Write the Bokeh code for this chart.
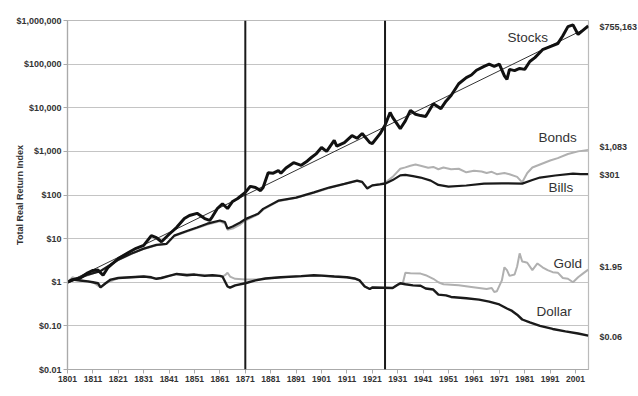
from bokeh.plotting import figure
from bokeh.models import FixedTicker, Span, Label, LogAxis
from bokeh.embed import file_html
from bokeh.resources import INLINE

# ---------------- data ----------------
stocks_years = [1801, 1803, 1806, 1809, 1811, 1813, 1815, 1817, 1821, 1825, 1828, 1831, 1834, 1836,
                1838, 1841, 1844, 1847, 1849, 1852, 1854, 1855, 1857, 1858, 1860, 1862, 1864, 1866,
                1868, 1871, 1873, 1875, 1877, 1878, 1880, 1882, 1884, 1885, 1887, 1890, 1893, 1895,
                1897, 1899, 1901, 1903, 1906, 1907, 1910, 1913, 1915, 1917, 1920, 1921, 1924, 1926,
                1928, 1929, 1932, 1934, 1936, 1938, 1940, 1942, 1945, 1948, 1950, 1952, 1955, 1958,
                1960, 1962, 1965, 1967, 1969, 1971, 1973, 1974, 1975, 1977, 1979, 1981, 1983, 1985,
                1988, 1991, 1994, 1996, 1998, 2000, 2002, 2004, 2006]
stocks_values = [1.0, 1.15, 1.25, 1.65, 1.86, 1.9, 1.45, 2.2, 3.5, 4.8, 6.0, 7.0, 11.7, 10.5,
                 8.5, 12.6, 18.2, 28.8, 33.9, 38.0, 31.6, 28.8, 26.3, 31.6, 49.0, 63.0, 49.0, 71.0,
                 83.0, 115.0, 158.0, 148.0, 126.0, 148.0, 324.0, 316.0, 363.0, 316.0, 417.0, 550.0, 479.0, 575.0,
                 724.0, 891.0, 1230.0, 1000.0, 1778.0, 1318.0, 1585.0, 2291.0, 1995.0, 2570.0, 1585.0, 1514.0, 2512.0, 3981.0,
                 7762.0, 6026.0, 3311.0, 5012.0, 8710.0, 7079.0, 6607.0, 6310.0, 12300.0, 9550.0, 14125.0, 19055.0, 35481.0, 48978.0,
                 56234.0, 72444.0, 89125.0, 100000.0, 89125.0, 100000.0, 53703.0, 44668.0, 75858.0, 70795.0, 79433.0, 75858.0, 114815.0, 141254.0,
                 213796.0, 251189.0, 295121.0, 446684.0, 724436.0, 794328.0, 478630.0, 602560.0, 755163.0]

trend_years = [1801, 2006]
trend_values = [1.0, 700000.0]

bonds_years = [1801, 1806, 1809, 1814, 1821, 1826, 1831, 1836, 1840, 1843, 1848, 1852, 1856, 1861,
               1863, 1864, 1866, 1869, 1871, 1876, 1878, 1884, 1891, 1898, 1904, 1910, 1915, 1917,
               1919, 1921, 1924, 1926, 1929, 1932, 1934, 1936, 1938, 1940, 1943, 1945, 1947, 1949,
               1952, 1955, 1958, 1961, 1964, 1966, 1968, 1970, 1973, 1975, 1978, 1980, 1982, 1984,
               1987, 1991, 1994, 1998, 2002, 2006]
bonds_values = [1.0, 1.3, 1.45, 1.85, 3.2, 4.4, 5.8, 7.0, 7.5, 11.5, 14.5, 17.5, 21.0, 25.0,
                22.0, 16.0, 17.0, 21.0, 26.0, 36.0, 46.0, 72.0, 86.0, 113.0, 145.0, 178.0, 210.0, 195.0,
                145.0, 165.0, 178.0, 190.0, 260.0, 400.0, 430.0, 470.0, 500.0, 470.0, 420.0, 440.0, 390.0, 427.0,
                390.0, 400.0, 331.0, 360.0, 345.0, 320.0, 340.0, 300.0, 320.0, 300.0, 260.0, 195.0, 320.0, 427.0,
                500.0, 617.0, 700.0, 871.0, 1000.0, 1083.0]

bills_years = [1801, 1806, 1809, 1814, 1821, 1826, 1831, 1836, 1840, 1843, 1848, 1852, 1856, 1861,
               1863, 1864, 1866, 1869, 1871, 1876, 1878, 1884, 1891, 1898, 1904, 1910, 1915, 1917,
               1919, 1921, 1924, 1926, 1929, 1932, 1934, 1937, 1940, 1944, 1947, 1951, 1958, 1965,
               1972, 1980, 1984, 1987, 1993, 2000, 2003, 2006]
bills_values = [1.0, 1.25, 1.5, 1.8, 3.3, 4.5, 5.9, 7.2, 7.6, 11.7, 15.0, 18.0, 22.0, 26.0,
                24.0, 17.0, 19.0, 23.4, 28.0, 37.0, 48.0, 74.0, 87.0, 115.0, 148.0, 180.0, 214.0, 200.0,
                141.0, 166.0, 175.0, 182.0, 220.0, 282.0, 290.0, 270.0, 251.0, 214.0, 170.0, 155.0, 165.0, 182.0,
                185.0, 182.0, 220.0, 251.0, 280.0, 309.0, 300.0, 301.0]

gold_years = [1801, 1803, 1806, 1811, 1814, 1816, 1821, 1831, 1836, 1841, 1844, 1851, 1858, 1862,
              1863, 1864, 1865, 1867, 1871, 1875, 1879, 1885, 1893, 1901, 1911, 1914, 1916, 1918,
              1920, 1921, 1925, 1929, 1931, 1933, 1934, 1936, 1940, 1942, 1945, 1947, 1949, 1955,
              1960, 1966, 1968, 1969, 1970, 1972, 1973, 1974, 1975, 1977, 1978, 1979, 1980, 1981,
              1982, 1984, 1986, 1988, 1990, 1992, 1994, 1996, 1998, 2000, 2002, 2004, 2006]
gold_values = [1.0, 1.3, 1.1, 1.0, 0.76, 0.95, 1.25, 1.35, 1.2, 1.4, 1.55, 1.5, 1.45, 1.35,
               1.45, 1.65, 1.35, 1.2, 1.15, 1.15, 1.22, 1.3, 1.38, 1.42, 1.3, 1.22, 1.1, 0.8,
               0.7, 0.76, 0.75, 0.74, 0.88, 0.95, 1.66, 1.6, 1.58, 1.45, 1.2, 1.0, 0.9, 0.85,
               0.78, 0.7, 0.74, 0.6, 0.62, 1.1, 2.2, 1.9, 1.4, 1.5, 2.3, 4.6, 3.0, 2.9,
               2.8, 1.9, 2.7, 2.2, 1.9, 1.7, 1.66, 1.25, 1.2, 1.0, 1.3, 1.6, 1.95]

dollar_years = [1801, 1803, 1806, 1809, 1811, 1813, 1814, 1816, 1818, 1821, 1826, 1831, 1834, 1836,
                1838, 1841, 1844, 1848, 1851, 1855, 1858, 1861, 1862, 1864, 1865, 1867, 1871, 1875,
                1879, 1885, 1893, 1898, 1901, 1906, 1911, 1914, 1916, 1918, 1920, 1921, 1925, 1929,
                1931, 1932, 1934, 1937, 1940, 1942, 1945, 1947, 1950, 1952, 1958, 1963, 1967, 1971,
                1974, 1976, 1978, 1980, 1983, 1987, 1992, 1997, 2002, 2006]
dollar_values = [1.0, 1.15, 1.1, 1.05, 1.0, 0.95, 0.76, 0.95, 1.15, 1.25, 1.3, 1.35, 1.3, 1.2,
                 1.25, 1.4, 1.55, 1.45, 1.5, 1.4, 1.45, 1.4, 1.35, 0.8, 0.75, 0.85, 0.95, 1.1,
                 1.22, 1.3, 1.38, 1.45, 1.42, 1.35, 1.3, 1.22, 1.1, 0.8, 0.7, 0.76, 0.75, 0.74,
                 0.88, 0.95, 0.9, 0.85, 0.83, 0.72, 0.68, 0.52, 0.5, 0.46, 0.43, 0.4, 0.36, 0.31,
                 0.25, 0.22, 0.18, 0.14, 0.12, 0.1, 0.085, 0.075, 0.067, 0.06]

era_lines = [1871, 1926]

x_ticks = [1801, 1811, 1821, 1831, 1841, 1851, 1861, 1871, 1881, 1891, 1901,
           1911, 1921, 1931, 1941, 1951, 1961, 1971, 1981, 1991, 2001]
y_ticks = [0.01, 0.1, 1, 10, 100, 1000, 10000, 100000, 1000000]
y_tick_labels = ["$0.01", "$0.10", "$1", "$10", "$100", "$1,000", "$10,000", "$100,000", "$1,000,000"]

series_names = ["Stocks", "Bonds", "Bills", "Gold", "Dollar"]
end_labels = ["$755,163", "$1,083", "$301", "$1.95", "$0.06"]
axis_title = "Total Real Return Index"

# ---------------- figure ----------------
FONT = "Liberation Sans"
TXT = "#333333"
GRAY = "#b0b0b0"

p = figure(frame_width=521, frame_height=349,
           min_border_left=67, min_border_right=48, min_border_top=20, min_border_bottom=25,
           y_axis_type="log", x_range=(1801, 2006.1), y_range=(0.01, 1000000),
           output_backend="svg", toolbar_location=None)
p.background_fill_color = "white"
p.border_fill_color = "white"
p.outline_line_color = "#bbbbbb"
p.outline_line_width = 1.2

p.xgrid.visible = False
p.ygrid.ticker = FixedTicker(ticks=y_ticks)
p.ygrid.grid_line_color = "#c4c4c4"
p.ygrid.grid_line_width = 1.2

p.yaxis.ticker = FixedTicker(ticks=y_ticks)
p.yaxis.major_label_overrides = {t: s for t, s in zip(y_ticks, y_tick_labels)}
p.xaxis.ticker = FixedTicker(ticks=x_ticks)
p.xaxis.major_label_overrides = {t: str(t) for t in x_ticks}
for ax in (p.xaxis[0], p.yaxis[0]):
    ax.axis_line_color = "#aaaaaa"
    ax.axis_line_width = 1.2
    ax.major_tick_line_color = "#aaaaaa"
    ax.major_tick_in = 0
    ax.major_tick_out = 4
    ax.minor_tick_line_color = None
    ax.major_label_text_font = FONT
    ax.major_label_text_font_style = "bold"
    ax.major_label_text_color = TXT
    ax.major_label_standoff = 2
p.yaxis.major_label_text_font_size = "9px"
p.xaxis.major_label_text_font_size = "8.5px"

# y axis title, pulled in over the short tick labels
p.yaxis.axis_label = axis_title
p.yaxis.axis_label_text_font = FONT
p.yaxis.axis_label_text_font_size = "9px"
p.yaxis.axis_label_text_font_style = "bold"
p.yaxis.axis_label_text_color = TXT
p.yaxis.axis_label_standoff = -12

# right-hand end-value labels as an unlined axis
end_label_y = [692000, 1290, 295, 2.29, 0.056]
rax = LogAxis(ticker=FixedTicker(ticks=end_label_y),
              major_label_overrides={t: s for t, s in zip(end_label_y, end_labels)})
rax.axis_line_color = None
rax.major_tick_line_color = None
rax.minor_tick_line_color = None
rax.major_label_standoff = 5
rax.major_label_text_font = FONT
rax.major_label_text_font_size = "9px"
rax.major_label_text_font_style = "bold"
rax.major_label_text_color = TXT
p.add_layout(rax, "right")

# era lines
for yr in era_lines:
    p.add_layout(Span(location=yr, dimension="height", line_color="#1a1a1a", line_width=2))

# series
p.line(gold_years, gold_values, line_color=GRAY, line_width=2)
p.line(bonds_years, bonds_values, line_color=GRAY, line_width=2)
p.line(dollar_years, dollar_values, line_color="#1a1a1a", line_width=2.4)
p.line(bills_years, bills_values, line_color="#1a1a1a", line_width=2.2)
p.line(trend_years, trend_values, line_color="#333333", line_width=1)
p.line(stocks_years, stocks_values, line_color="#111111", line_width=3)

# series names
name_pos = [(1974.2, 410000), (1986.4, 2089), (1990.4, 148), (1992.3, 2.69), (1985.6, 0.213)]
for name, (x, y) in zip(series_names, name_pos):
    p.add_layout(Label(x=x, y=y, text=name, text_font=FONT, text_font_size="13.5px",
                       text_color=TXT, text_baseline="middle", text_align="left"))

open("out.html", "w").write(file_html(p, INLINE))
